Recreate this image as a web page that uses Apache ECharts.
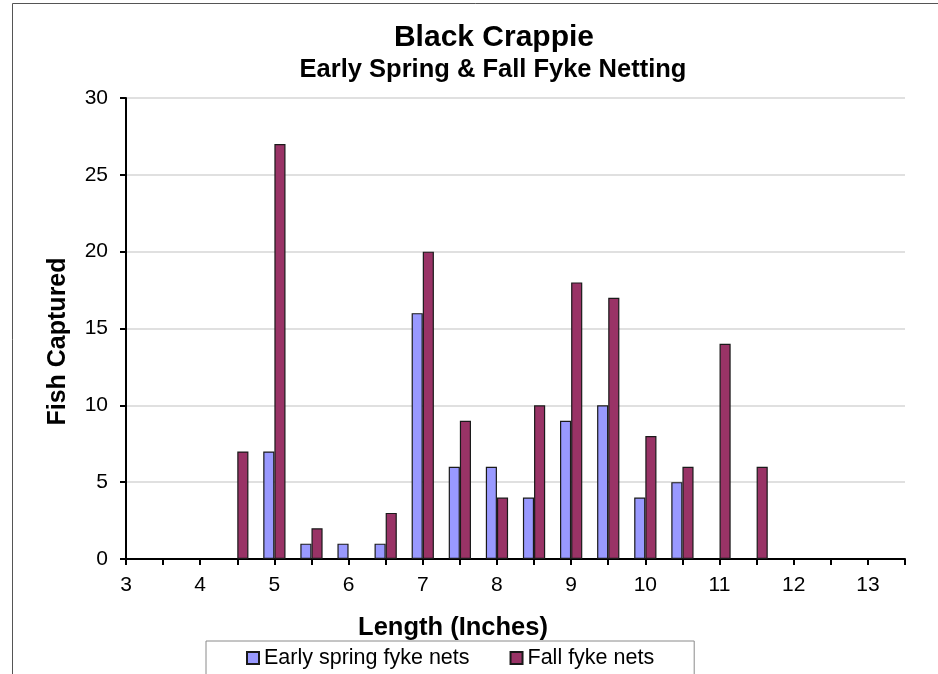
<!DOCTYPE html>
<html>
<head>
<meta charset="utf-8">
<title>Black Crappie – Fyke Netting Length Frequency</title>
<script src="https://cdn.jsdelivr.net/npm/echarts@6/dist/echarts.min.js"></script>
<style>
  html, body { margin: 0; padding: 0; background: #ffffff; }
  #chart { width: 938px; height: 674px; }
</style>
</head>
<body>
<div id="chart"></div>
<script>
// Length classes in half-inch steps (inches)
const lengthClasses = ['3', '3.5', '4', '4.5', '5', '5.5', '6', '6.5', '7', '7.5', '8',
  '8.5', '9', '9.5', '10', '10.5', '11', '11.5', '12', '12.5', '13', '13.5'];

// Fish captured per length class (null = none caught)
const springCatch = [null, null, null, null, 7, 1, 1, 1, 16, 6, 6,
  4, 9, 10, 4, 5, null, null, null, null, null, null];
const fallCatch = [null, null, null, 7, 27, 2, null, 3, 20, 9, 4,
  10, 18, 17, 8, 6, 14, 6, null, null, null, null];

const seriesNames = ['Early spring fyke nets', 'Fall fyke nets'];
const yTicks = { min: 0, max: 30, step: 5 };

const FONT = "'Liberation Sans', Arial, Helvetica, sans-serif";

const chart = echarts.init(document.getElementById('chart'), null, { renderer: 'canvas' });

chart.setOption({
  backgroundColor: '#ffffff',
  animation: false,
  textStyle: { fontFamily: FONT, color: '#000000' },
  title: [
    {
      text: 'Black Crappie',
      left: 494, top: 23, padding: 0,
      textAlign: 'center',
      textStyle: { fontFamily: FONT, fontSize: 30, fontWeight: 'bold', color: '#000000' }
    },
    {
      text: 'Early Spring & Fall Fyke Netting',
      left: 493, top: 57, padding: 0,
      textAlign: 'center',
      textStyle: { fontFamily: FONT, fontSize: 25.5, fontWeight: 'bold', color: '#000000' }
    }
  ],
  graphic: [
    {
      // page frame (top and left edges visible)
      type: 'rect',
      shape: { x: 12.5, y: 3.5, width: 1200, height: 1000 },
      style: { fill: null, stroke: '#555555', lineWidth: 1 },
      silent: true,
      z: -1
    }
  ],
  legend: {
    data: seriesNames,
    left: 206, top: 641,
    padding: [6, 40, 12, 40],
    itemGap: 40,
    itemWidth: 12, itemHeight: 12,
    icon: 'rect',
    backgroundColor: '#ffffff',
    borderColor: '#8a8a8a',
    borderWidth: 1,
    borderRadius: 0,
    textStyle: { fontFamily: FONT, fontSize: 21.5, color: '#000000' }
  },
  grid: { left: 126, right: 33, top: 98, bottom: 115, containLabel: false },
  xAxis: {
    type: 'category',
    data: lengthClasses,
    boundaryGap: false,
    name: 'Length (Inches)',
    nameLocation: 'middle',
    nameGap: 56,
    nameTextStyle: {
      fontFamily: FONT, fontSize: 25.5, fontWeight: 'bold', color: '#000000',
      padding: [0, 125, 0, 0]
    },
    axisLine: { show: true, lineStyle: { color: '#000000', width: 2 } },
    axisTick: { show: true, interval: 0, length: 6, lineStyle: { color: '#000000', width: 2 } },
    axisLabel: { interval: 1, margin: 16, fontFamily: FONT, fontSize: 21, color: '#000000' },
    splitLine: { show: false }
  },
  yAxis: {
    type: 'value',
    min: yTicks.min, max: yTicks.max, interval: yTicks.step,
    name: 'Fish Captured',
    nameLocation: 'middle',
    nameRotate: 90,
    nameGap: 55,
    nameTextStyle: {
      fontFamily: FONT, fontSize: 25, fontWeight: 'bold', color: '#000000',
      padding: [0, 26, 0, 0]
    },
    axisLine: { show: true, lineStyle: { color: '#000000', width: 2 } },
    axisTick: { show: true, length: 6, lineStyle: { color: '#000000', width: 2 } },
    axisLabel: { margin: 18, fontFamily: FONT, fontSize: 21, color: '#000000' },
    splitLine: { show: true, lineStyle: { color: '#d6d6d6', width: 1.5 } }
  },
  series: [
    {
      name: seriesNames[0],
      type: 'bar',
      data: springCatch,
      barGap: '0%',
      barCategoryGap: '40%',
      itemStyle: { color: '#9999ff', borderColor: '#1a1a1a', borderWidth: 1.2 }
    },
    {
      name: seriesNames[1],
      type: 'bar',
      data: fallCatch,
      barGap: '0%',
      barCategoryGap: '40%',
      itemStyle: { color: '#993366', borderColor: '#1a1a1a', borderWidth: 1.2 }
    }
  ]
});
</script>
</body>
</html>
